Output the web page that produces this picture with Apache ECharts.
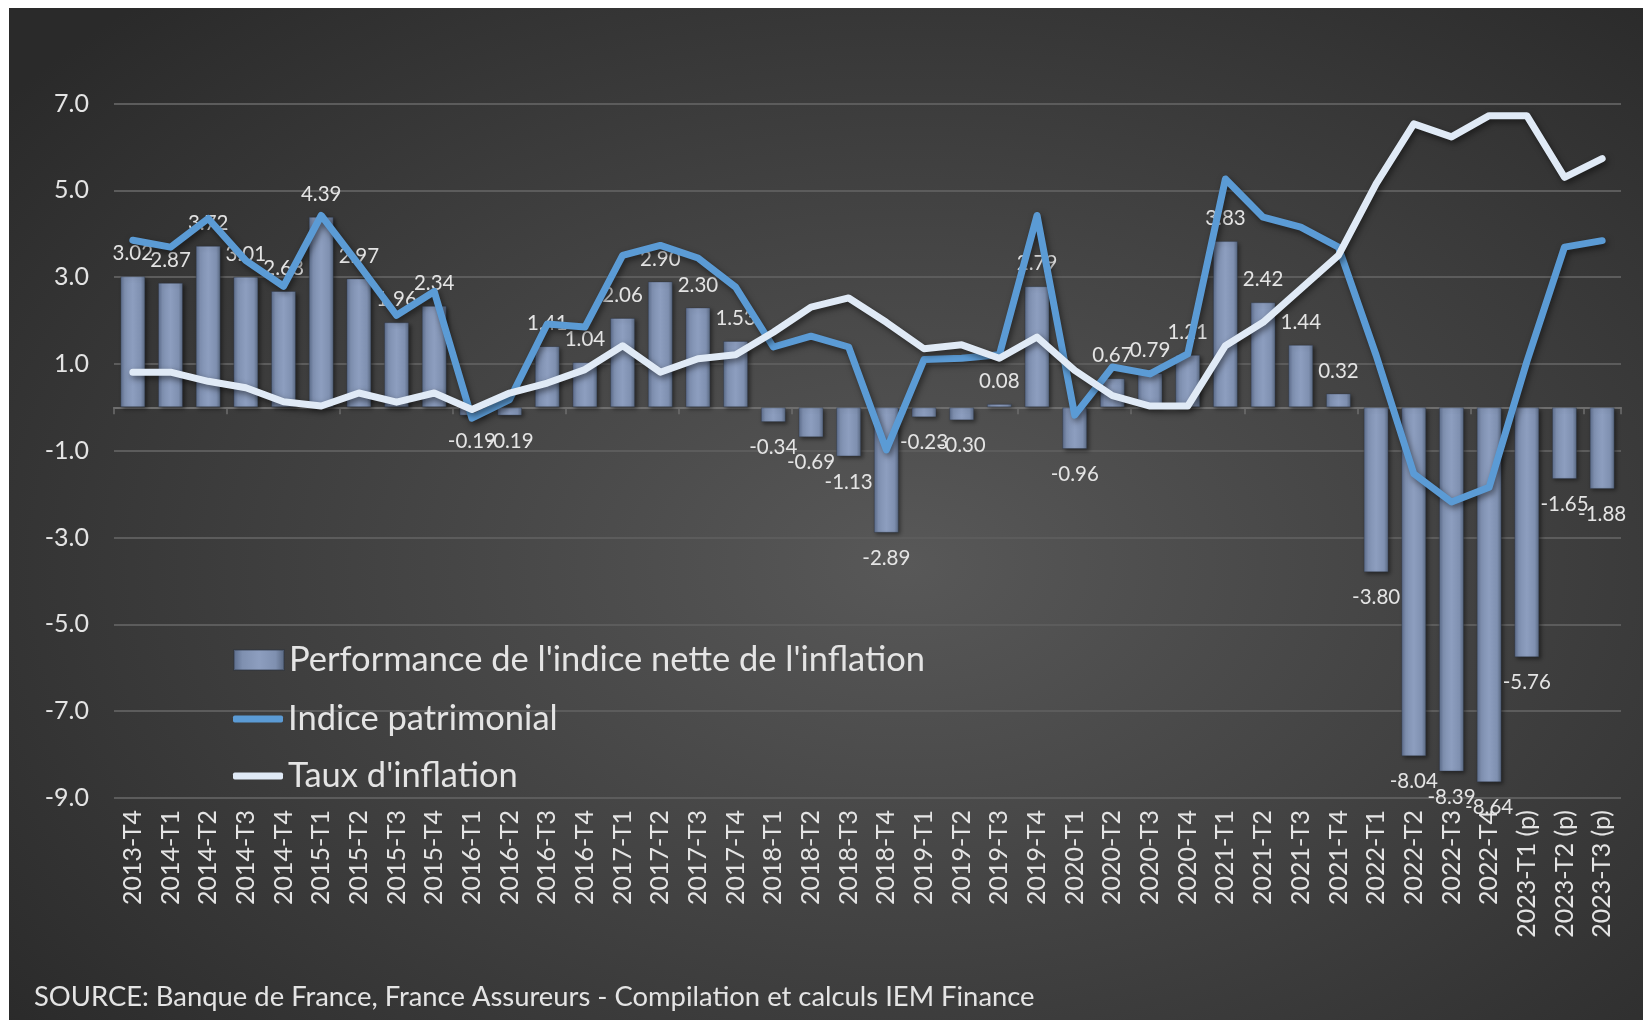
<!DOCTYPE html>
<html>
<head>
<meta charset="utf-8">
<script src="https://cdn.jsdelivr.net/npm/echarts@6/dist/echarts.min.js"></script>
<style>
  html, body { margin: 0; padding: 0; background: #ffffff; width: 1643px; height: 1020px; overflow: hidden; }
  #chart { position: absolute; left: 9px; top: 8px; width: 1634px; height: 1012px;
    background: radial-gradient(ellipse 70% 75% at 55% 55%, #585858 0%, #3f3f3f 55%, #2a2a2a 100%); }
</style>
</head>
<body>
<div id="chart"></div>
<script>
const categories = ['2013-T4','2014-T1','2014-T2','2014-T3','2014-T4','2015-T1','2015-T2','2015-T3','2015-T4',
  '2016-T1','2016-T2','2016-T3','2016-T4','2017-T1','2017-T2','2017-T3','2017-T4','2018-T1','2018-T2','2018-T3','2018-T4',
  '2019-T1','2019-T2','2019-T3','2019-T4','2020-T1','2020-T2','2020-T3','2020-T4','2021-T1','2021-T2','2021-T3','2021-T4',
  '2022-T1','2022-T2','2022-T3','2022-T4','2023-T1 (p)','2023-T2 (p)','2023-T3 (p)'];
const performance = [3.02,2.87,3.72,3.01,2.68,4.39,2.97,1.96,2.34,-0.19,-0.19,1.41,1.04,2.06,2.90,2.30,1.53,-0.34,-0.69,-1.13,-2.89,
  -0.23,-0.30,0.08,2.79,-0.96,0.67,0.79,1.21,3.83,2.42,1.44,0.32,-3.80,-8.04,-8.39,-8.64,-5.76,-1.65,-1.88];
const indicePatrimonial = [3.85,3.69,4.35,3.38,2.79,4.42,3.28,2.12,2.67,-0.25,0.18,1.92,1.85,3.5,3.73,3.44,2.77,1.39,1.64,1.39,-0.98,
  1.1,1.13,1.21,4.42,-0.18,0.93,0.77,1.23,5.26,4.38,4.15,3.69,1.2,-1.53,-2.18,-1.84,1.05,3.69,3.84];
const inflation = [0.81,0.81,0.6,0.45,0.13,0.03,0.33,0.12,0.33,-0.05,0.33,0.56,0.87,1.42,0.81,1.12,1.21,1.73,2.31,2.52,1.96,
  1.35,1.44,1.13,1.62,0.85,0.27,0.03,0.03,1.42,1.96,2.73,3.5,5.15,6.53,6.23,6.72,6.72,5.3,5.73];
const seriesNames = ["Performance de l'indice nette de l'inflation", 'Indice patrimonial', "Taux d'inflation"];
const sourceText = 'SOURCE: Banque de France, France Assureurs - Compilation et calculs IEM Finance';

const FONT = 'Lato, "Open Sans", sans-serif';
const TXT = '#e4e4e4';
const BLUE = '#5b9bd5';
const WHITE = '#e0eaf6';

const chart = echarts.init(document.getElementById('chart'), null, { renderer: 'canvas' });

const barData = performance.map(v => ({
  value: v,
  label: { position: v >= 0 ? 'top' : 'bottom', distance: v >= 0 ? 12 : 15 }
}));

const barGradient = new echarts.graphic.LinearGradient(0, 0, 1, 0, [
  { offset: 0, color: '#5b6b8a' },
  { offset: 0.18, color: '#7f90b0' },
  { offset: 0.5, color: '#8d9ebf' },
  { offset: 0.82, color: '#7f90b0' },
  { offset: 1, color: '#57667f' }
]);

const legendBase = {
  orient: 'vertical',
  left: 224,
  padding: 0,
  itemWidth: 50,
  itemGap: 0,
  textStyle: { color: TXT, fontSize: 34.5, fontFamily: FONT, lineHeight: 40, padding: [0, 0, 0, 0] }
};

chart.setOption({
  backgroundColor: 'transparent',
  textStyle: { fontFamily: FONT },
  animation: false,
  grid: { left: 105, right: 22, top: 95.5, bottom: 222, containLabel: false },
  legend: [
    Object.assign({}, legendBase, { top: 632, itemHeight: 20, data: [{ name: seriesNames[0], icon: 'rect' }] }),
    Object.assign({}, legendBase, { top: 691, itemHeight: 7, data: [{ name: seriesNames[1], icon: 'roundRect', itemStyle: { color: BLUE } }] }),
    Object.assign({}, legendBase, { top: 748, itemHeight: 7, data: [{ name: seriesNames[2], icon: 'roundRect', itemStyle: { color: WHITE } }] })
  ],
  xAxis: [
    {
      type: 'category',
      data: categories,
      position: 'bottom',
      boundaryGap: true,
      axisLine: { show: false, onZero: false },
      axisTick: { show: false },
      axisLabel: { rotate: 90, color: TXT, fontSize: 25, fontFamily: FONT, margin: 12, interval: 0 },
      splitLine: { show: false }
    },
    {
      type: 'category',
      data: categories,
      position: 'bottom',
      boundaryGap: true,
      axisLine: { show: true, onZero: true, lineStyle: { color: '#6e6e6e', width: 2 } },
      axisTick: { show: true, length: 7, lineStyle: { color: '#6e6e6e', width: 1.5 } },
      axisLabel: { show: false },
      splitLine: { show: false }
    }
  ],
  yAxis: {
    type: 'value',
    min: -9,
    max: 7,
    interval: 2,
    axisLine: { show: false },
    axisTick: { show: false },
    axisLabel: { color: TXT, fontSize: 25, fontFamily: FONT, margin: 25, formatter: v => v.toFixed(1) },
    splitLine: { lineStyle: { color: '#5c5c5c', width: 2 } }
  },
  series: [
    {
      name: seriesNames[0],
      type: 'bar',
      xAxisIndex: 0,
      barWidth: 25,
      data: barData,
      itemStyle: {
        color: barGradient,
        borderColor: 'rgba(40,48,64,0.35)',
        borderWidth: 1,
        shadowColor: 'rgba(0,0,0,0.45)',
        shadowBlur: 4,
        shadowOffsetX: 2,
        shadowOffsetY: 2
      },
      label: {
        show: true,
        color: TXT,
        fontSize: 20.5,
        fontFamily: FONT,
        formatter: p => p.value.toFixed(2)
      },
      z: 2
    },
    {
      name: seriesNames[1],
      type: 'line',
      xAxisIndex: 0,
      data: indicePatrimonial,
      symbol: 'none',
      showSymbol: false,
      lineStyle: {
        color: BLUE, width: 7, cap: 'round', join: 'round',
        shadowColor: 'rgba(0,0,0,0.5)', shadowBlur: 6, shadowOffsetX: 2, shadowOffsetY: 3
      },
      itemStyle: { color: BLUE },
      z: 3
    },
    {
      name: seriesNames[2],
      type: 'line',
      xAxisIndex: 0,
      data: inflation,
      symbol: 'none',
      showSymbol: false,
      lineStyle: {
        color: WHITE, width: 7, cap: 'round', join: 'round',
        shadowColor: 'rgba(0,0,0,0.5)', shadowBlur: 6, shadowOffsetX: 2, shadowOffsetY: 3
      },
      itemStyle: { color: WHITE },
      z: 4
    }
  ],
  graphic: [
    {
      type: 'text',
      left: 25,
      top: 976,
      style: { text: sourceText, fill: TXT, fontSize: 27.4, fontFamily: FONT }
    }
  ]
});
</script>
</body>
</html>
